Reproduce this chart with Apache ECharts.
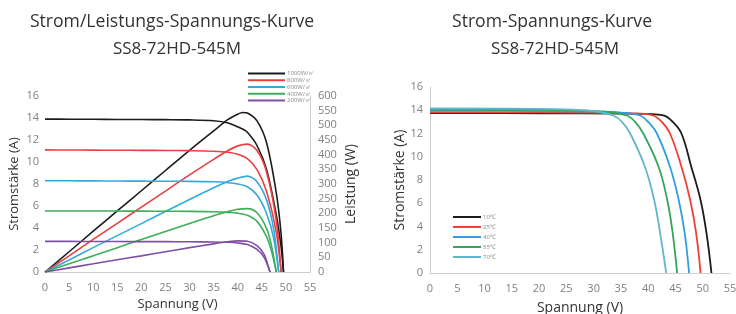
<!doctype html>
<html>
<head>
    <meta charset="utf-8">
    <script src="https://cdn.jsdelivr.net/npm/echarts@6/dist/echarts.min.js"></script>
</head>
<body style="margin: 0">
    <div id="container" style="width: 736px; height: 314px"></div>
    <script type="text/javascript">
        // left chart: I-V and P-V per irradiance
        var irrNames = ['1000W/㎡', '800W/㎡', '600W/㎡', '400W/㎡', '200W/㎡'];
        var irrColors = ['#1c1c1c', '#e84040', '#35a9de', '#3dae5b', '#7d4fa5'];

        var v1000 = [0, 5, 10, 15, 20, 25, 30, 35, 38, 40, 41, 42, 44, 46, 48, 49, 49.5];
        var i1000 = [13.9, 13.89, 13.88, 13.87, 13.86, 13.85, 13.83, 13.75, 13.55, 13.2, 13.0, 12.7, 11.5, 9.3, 5.2, 2.3, 0];
        var p1000 = [0, 69, 139, 208, 277, 346, 415, 481, 520, 538, 544, 542, 515, 440, 270, 130, 0];

        var v800 = [0, 5, 10, 15, 20, 25, 30, 35, 38, 40, 42, 44, 46, 48, 49];
        var i800 = [11.1, 11.09, 11.08, 11.07, 11.06, 11.05, 11.03, 10.98, 10.88, 10.7, 10.3, 9.3, 7.3, 3.6, 0];
        var p800 = [0, 55, 111, 166, 221, 276, 331, 384, 414, 430, 436, 414, 340, 175, 0];

        var v600 = [0, 5, 10, 15, 20, 25, 30, 35, 38, 40, 42, 44, 46, 47.5, 48.5];
        var i600 = [8.3, 8.29, 8.28, 8.27, 8.26, 8.25, 8.24, 8.2, 8.12, 8.0, 7.75, 7.0, 5.3, 3.0, 0];
        var p600 = [0, 41, 83, 124, 165, 206, 247, 287, 309, 320, 327, 308, 245, 142, 0];

        var v400 = [0, 5, 10, 15, 20, 25, 30, 35, 38, 40, 42, 44, 46, 47, 48];
        var i400 = [5.55, 5.55, 5.54, 5.54, 5.53, 5.52, 5.51, 5.48, 5.42, 5.35, 5.15, 4.6, 3.2, 1.9, 0];
        var p400 = [0, 28, 55, 83, 111, 138, 165, 192, 206, 214, 216, 202, 148, 90, 0];

        var v200 = [0, 5, 10, 15, 20, 25, 30, 35, 38, 40, 42, 44, 45.5, 46.7];
        var i200 = [2.78, 2.78, 2.77, 2.77, 2.76, 2.76, 2.75, 2.73, 2.7, 2.64, 2.5, 2.05, 1.3, 0];
        var p200 = [0, 14, 28, 42, 55, 69, 83, 96, 103, 106, 105, 90, 59, 0];

        // right chart: I-V per temperature
        var tempNames = ['10℃', '25℃', '40℃', '55℃', '70℃'];
        var tempColors = ['#1c1c1c', '#ea4335', '#2f9fe0', '#35a45c', '#62b6cc'];

        var vT10 = [0, 20, 35, 40, 42.8, 44.5, 46.1, 47.9, 49.6, 50.7, 51.6];
        var iT10 = [13.75, 13.74, 13.72, 13.68, 13.55, 13.0, 12.0, 9.14, 6.28, 3.4, 0];
        var vT25 = [0, 20, 33, 38, 40.9, 42.5, 44, 46.1, 47.7, 48.8, 49.6];
        var iT25 = [13.82, 13.81, 13.78, 13.72, 13.55, 13.0, 12.0, 9.14, 6.28, 3.4, 0];
        var vT40 = [0, 20, 30, 35, 38.5, 40, 41.6, 44, 45.6, 46.7, 47.5];
        var iT40 = [13.95, 13.93, 13.88, 13.8, 13.55, 13.0, 12.0, 9.14, 6.28, 3.4, 0];
        var vT55 = [0, 20, 28, 32, 36.1, 37.6, 39.1, 41.9, 43.5, 44.5, 45.3];
        var iT55 = [14.05, 14.03, 13.97, 13.87, 13.55, 13.0, 12.0, 9.14, 6.28, 3.4, 0];
        var vT70 = [0, 20, 26, 30, 33.6, 35.2, 36.7, 39.4, 41.1, 42.2, 43.3];
        var iT70 = [14.15, 14.12, 14.05, 13.92, 13.55, 13.0, 12.0, 9.14, 6.28, 3.4, 0];

        function zip(xs, ys) {
            var out = [];
            for (var k = 0; k < xs.length; k++) out.push([xs[k], ys[k]]);
            return out;
        }

        var leftV = [v1000, v800, v600, v400, v200];
        var leftI = [i1000, i800, i600, i400, i200];
        var leftP = [p1000, p800, p600, p400, p200];
        var rightV = [vT10, vT25, vT40, vT55, vT70];
        var rightI = [iT10, iT25, iT40, iT55, iT70];

        var series = [];
        for (var s = 0; s < 5; s++) {
            series.push({
                name: irrNames[s], type: 'line', xAxisIndex: 0, yAxisIndex: 0,
                data: zip(leftV[s], leftI[s]), smooth: 0.3,
                symbol: 'none', lineStyle: { width: 1.6, color: irrColors[s] }, itemStyle: { color: irrColors[s] }
            });
            series.push({
                name: irrNames[s], type: 'line', xAxisIndex: 0, yAxisIndex: 1,
                data: zip(leftV[s], leftP[s]), smooth: 0.3,
                symbol: 'none', lineStyle: { width: 1.6, color: irrColors[s] }, itemStyle: { color: irrColors[s] }
            });
        }
        for (var t = 0; t < 5; t++) {
            series.push({
                name: tempNames[t], type: 'line', xAxisIndex: 1, yAxisIndex: 2,
                data: zip(rightV[t], rightI[t]), smooth: 0.4,
                symbol: 'none', lineStyle: { width: 1.8, color: tempColors[t] }, itemStyle: { color: tempColors[t] }
            });
        }

        var font = '"Open Sans", "Noto Sans", sans-serif';
        var tickLabel = { color: '#808080', fontSize: 11, fontFamily: font };
        var axisLine = { show: true, lineStyle: { color: '#cfcfcf', width: 1 } };
        var nameStyle = { color: '#333', fontSize: 13, fontFamily: font };
        var titleStyle = { fontSize: 17.6, fontWeight: 'normal', color: '#333', fontFamily: font };
        var subStyle = { fontSize: 17, fontWeight: 'normal', color: '#333', fontFamily: font };

        var dom = document.getElementById('container');
        var myChart = echarts.init(dom);
        var option = {
            animation: false,
            backgroundColor: '#fff',
            title: [
                { text: 'Strom/Leistungs-Spannungs-Kurve', left: 167, top: 8, textAlign: 'center', textStyle: titleStyle },
                { text: 'SS8-72HD-545M', left: 172, top: 36, textAlign: 'center', textStyle: subStyle },
                { text: 'Strom-Spannungs-Kurve', left: 547, top: 8, textAlign: 'center', textStyle: titleStyle },
                { text: 'SS8-72HD-545M', left: 550, top: 36, textAlign: 'center', textStyle: subStyle }
            ],
            legend: [
                { data: irrNames, orient: 'vertical', left: 243, top: 65, icon: 'rect',
                  itemWidth: 37, itemHeight: 2, itemGap: 0,
                  textStyle: { fontSize: 6, lineHeight: 6.8, color: '#888', fontFamily: font, padding: [0, 0, 0, -3] } },
                { data: tempNames, orient: 'vertical', left: 448, top: 208, icon: 'rect',
                  itemWidth: 28, itemHeight: 2, itemGap: 2,
                  textStyle: { fontSize: 6, lineHeight: 8, color: '#888', fontFamily: font, padding: [0, 0, 0, -3] } }
            ],
            grid: [
                { left: 45, top: 96, width: 265, height: 176, outerBoundsMode: 'none', containLabel: false },
                { left: 430, top: 87, width: 300, height: 186, outerBoundsMode: 'none', containLabel: false }
            ],
            xAxis: [
                { gridIndex: 0, type: 'value', min: 0, max: 55, interval: 5,
                  name: 'Spannung (V)', nameLocation: 'middle', nameGap: 25, nameTextStyle: nameStyle,
                  axisLine: axisLine, axisTick: { show: false }, splitLine: { show: false },
                  axisLabel: Object.assign({ margin: 10 }, tickLabel) },
                { gridIndex: 1, type: 'value', min: 0, max: 55, interval: 5,
                  name: 'Spannung (V)', nameLocation: 'middle', nameGap: 28,
                  nameTextStyle: Object.assign({}, nameStyle, { fontSize: 14 }),
                  axisLine: axisLine, axisTick: { show: false }, splitLine: { show: false },
                  axisLabel: Object.assign({ margin: 10 }, tickLabel) }
            ],
            yAxis: [
                { gridIndex: 0, type: 'value', min: 0, max: 16, interval: 2, position: 'left',
                  name: 'Stromstärke (A)', nameLocation: 'middle', nameGap: 24, nameTextStyle: nameStyle,
                  axisLine: { show: false }, axisTick: { show: false }, splitLine: { show: false },
                  axisLabel: Object.assign({ margin: 6 }, tickLabel) },
                { gridIndex: 0, type: 'value', min: 0, max: 600, interval: 50, position: 'right',
                  name: 'Leistung (W)', nameLocation: 'middle', nameGap: 34, nameRotate: 90,
                  nameTextStyle: Object.assign({}, nameStyle, { fontSize: 14 }),
                  axisLine: axisLine, axisTick: { show: false }, splitLine: { show: false },
                  axisLabel: Object.assign({ margin: 8 }, tickLabel) },
                { gridIndex: 1, type: 'value', min: 0, max: 16, interval: 2,
                  name: 'Stromstärke (A)', nameLocation: 'middle', nameGap: 22,
                  nameTextStyle: Object.assign({}, nameStyle, { fontSize: 14 }),
                  axisLine: axisLine, axisTick: { show: false }, splitLine: { show: false },
                  axisLabel: Object.assign({ margin: 7 }, tickLabel) }
            ],
            series: series
        };
        myChart.setOption(option);
    </script>
</body>
</html>
